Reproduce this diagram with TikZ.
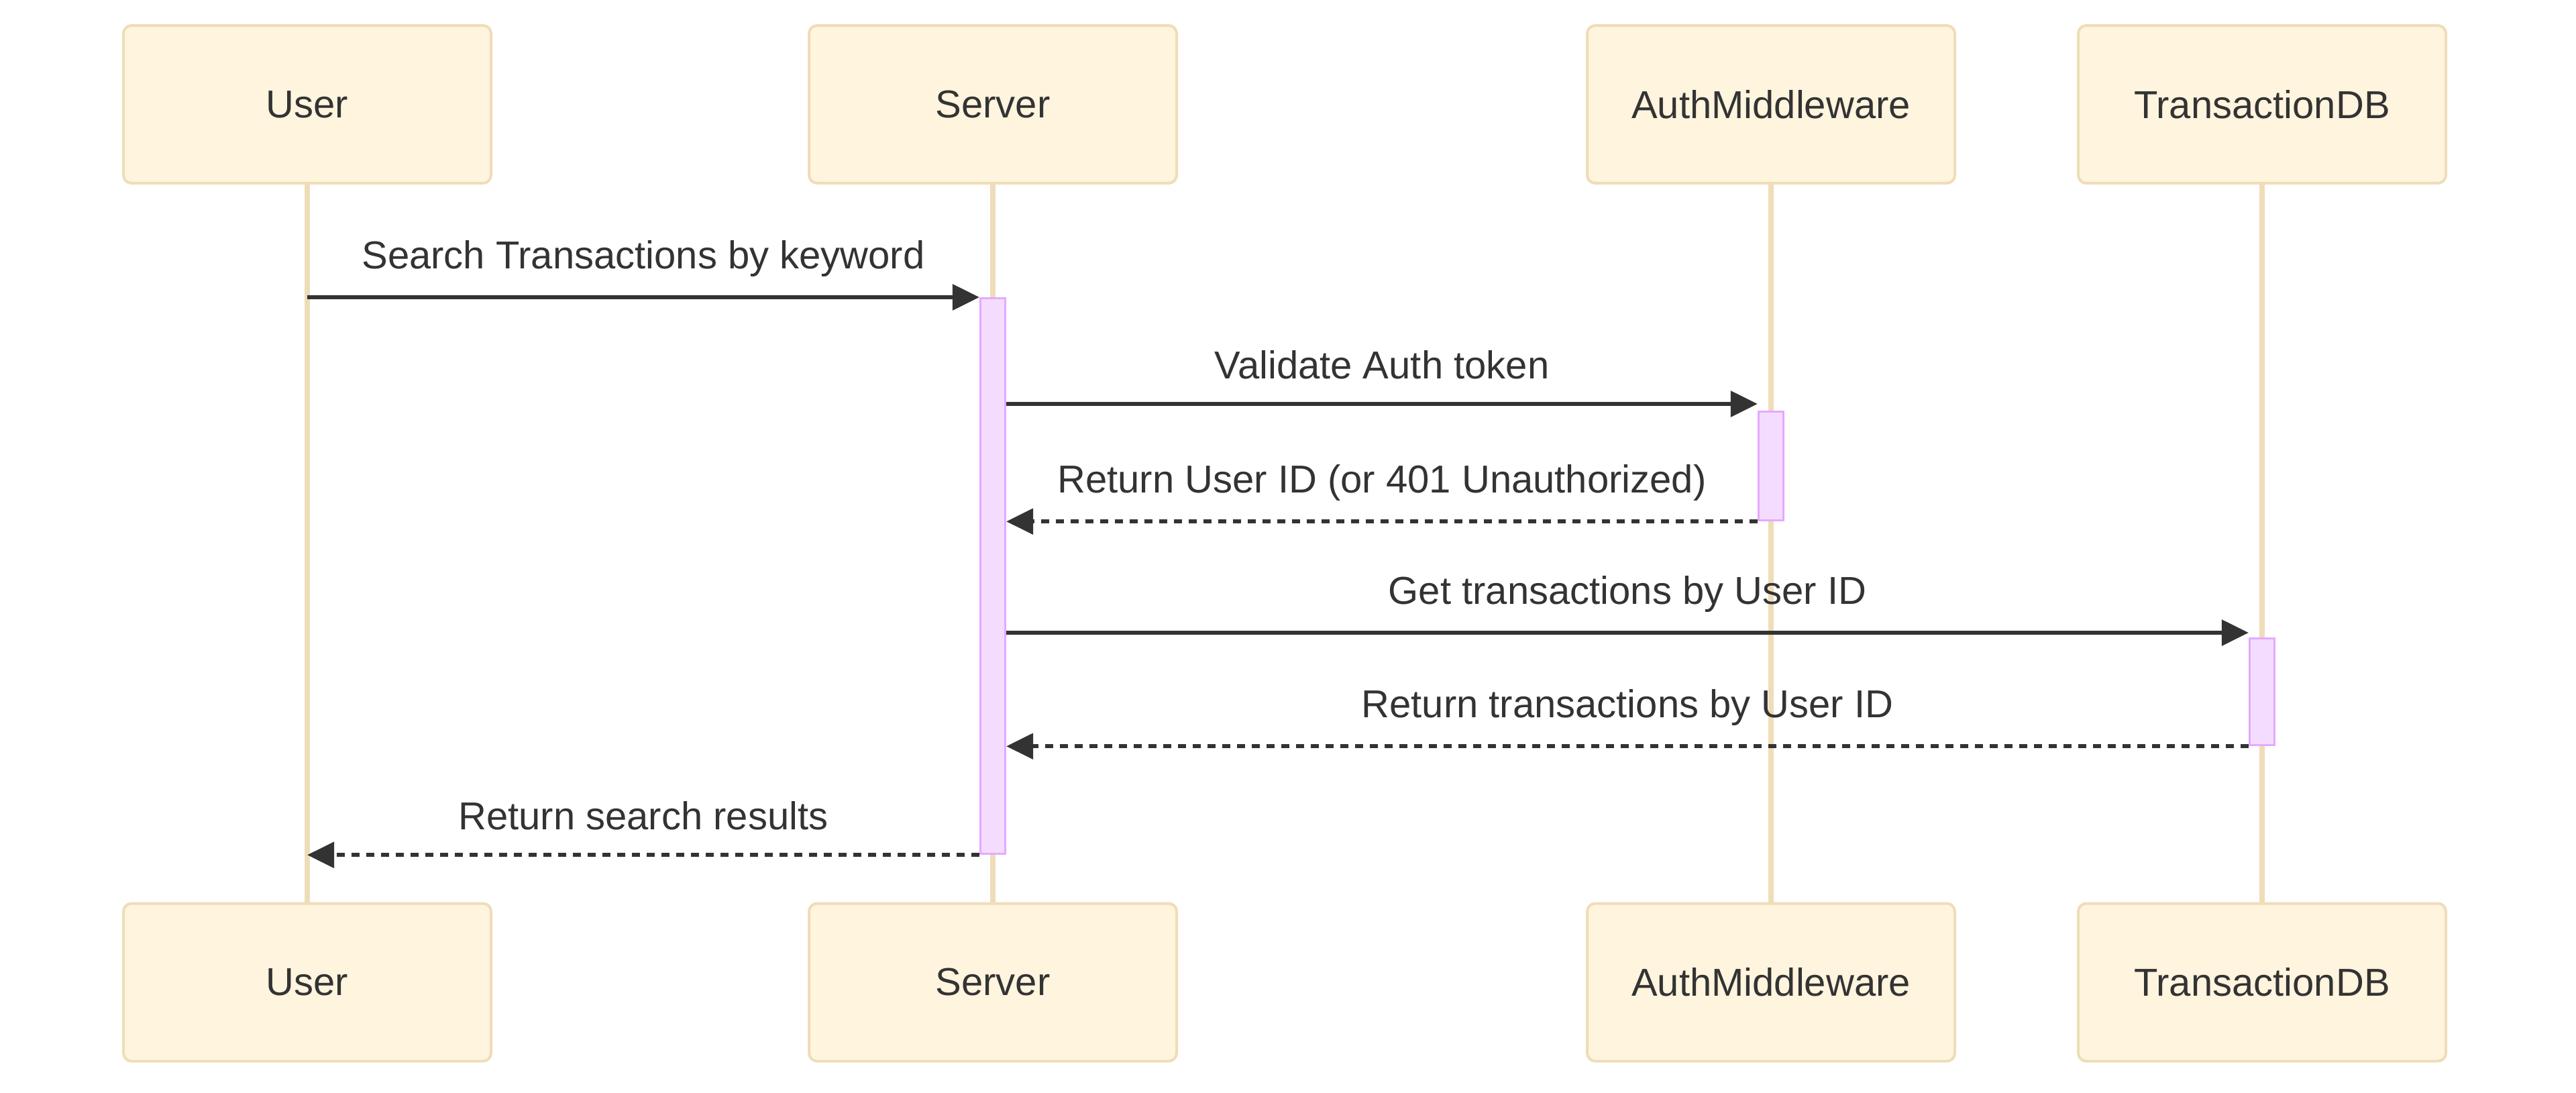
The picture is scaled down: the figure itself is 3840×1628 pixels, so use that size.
\documentclass[tikz,border=0pt]{standalone}
\usepackage{fontspec}
\setmainfont{Liberation Sans}
\usetikzlibrary{arrows.meta, positioning}
\definecolor{boxfill}{HTML}{FFF4DE}
\definecolor{boxline}{HTML}{EEDDB8}
\definecolor{barfill}{HTML}{F4DCFF}
\definecolor{barline}{HTML}{E4A9FF}
\definecolor{ink}{HTML}{333333}
\tikzset{
  actor/.style={draw=boxline, fill=boxfill, rounded corners=3pt, line width=1pt,
    minimum width=137pt, minimum height=58.75pt, text=ink, font=\fontsize{14.5}{17}\selectfont},
  life/.style={draw=boxline, line width=1.8pt},
  activ/.style={draw=barline, fill=barfill, line width=0.8pt, minimum width=9.25pt, anchor=north, inner sep=0pt},
  msg/.style={draw=ink, line width=1.4pt, -{Triangle[length=10pt,width=9.5pt]}},
  reply/.style={msg, dash pattern=on 3pt off 2.5pt},
  lbl/.style={text=ink, font=\fontsize{14.5}{17}\selectfont, yshift=14.5pt}
}
\begin{document}
\begin{tikzpicture}[x=0.25pt, y=-0.25pt]
\useasboundingbox (0,0) rectangle (3840,1628);
\node[actor] (user1) at (458,155.5) {User};
\node[actor] (srv1) at (1480,155.5) {Server};
\node[actor] (auth1) at (2640,155.5) {AuthMiddleware};
\node[actor] (db1) at (3372,155.5) {TransactionDB};
\node[actor] (user2) at (458,1464) {User};
\node[actor] (srv2) at (1480,1464) {Server};
\node[actor] (auth2) at (2640,1464) {AuthMiddleware};
\node[actor] (db2) at (3372,1464) {TransactionDB};
\draw[life] (user1) -- (user2);
\draw[life] (srv1) -- (srv2);
\draw[life] (auth1) -- (auth2);
\draw[life] (db1) -- (db2);
\node[activ, minimum height=207pt] (srvbar) at (1480,443) {};
\node[activ, minimum height=40.5pt] (authbar) at (2640,612) {};
\node[activ, minimum height=39.75pt] (dbbar) at (3372,950) {};
\draw[msg] (user1 |- srvbar.north) -- node[lbl] {Search Transactions by keyword} (srvbar.north west);
\draw[msg] (srvbar.east |- 0,602) -- node[lbl] {Validate Auth token} (authbar.west |- 0,602);
\draw[reply] (authbar.south west) -- node[lbl] {Return User ID (or 401 Unauthorized)} (srvbar.east |- authbar.south);
\draw[msg] (srvbar.east |- 0,943) -- node[lbl] {Get transactions by User ID} (dbbar.west |- 0,943);
\draw[reply] (dbbar.south west) -- node[lbl] {Return transactions by User ID} (srvbar.east |- dbbar.south);
\draw[reply] (srvbar.south west) -- node[lbl] {Return search results} (user1 |- srvbar.south);
\end{tikzpicture}
\end{document}
